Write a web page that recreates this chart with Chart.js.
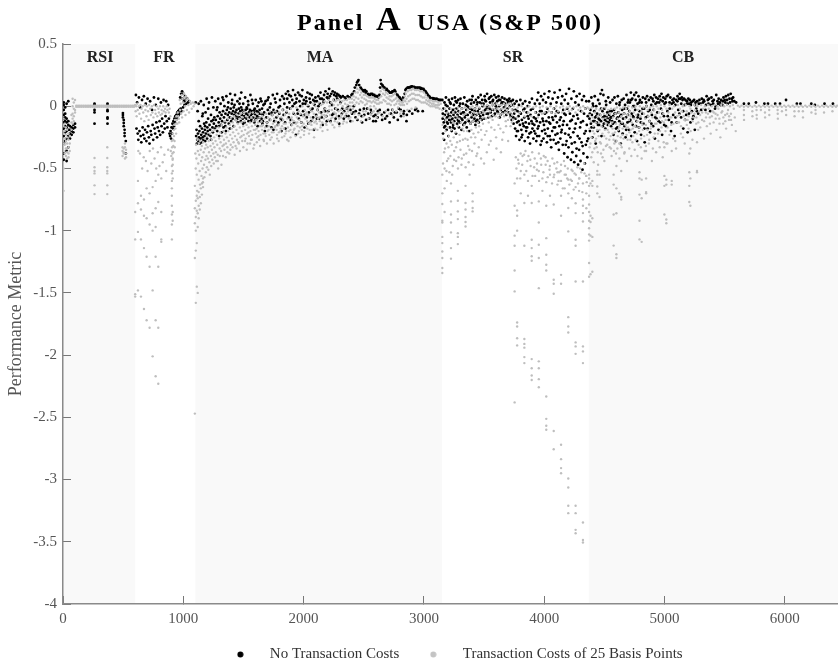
<!DOCTYPE html>
<html>
<head>
<meta charset="utf-8">
<title>Panel A USA (S&P 500)</title>
<script src="https://cdn.jsdelivr.net/npm/chart.js@4"></script>
<style>
body { margin: 0; background: #fff; }
canvas { display: block; filter: blur(0.3px); }
</style>
</head>
<body>
<canvas id="chart" width="838" height="666"></canvas>
<script>
const bandLabels = ['RSI', 'FR', 'MA', 'SR', 'CB']
const bandStarts = [0, 600, 1100, 3150, 4370]
const bandEnds = [600, 1100, 3150, 4370, 6442]
const bandCentres = [308, 839, 2136, 3741, 5154]
const xTicks = [0, 1000, 2000, 3000, 4000, 5000, 6000]
const yTicks = [0.5, 0, -0.5, -1, -1.5, -2, -2.5, -3, -3.5, -4]

// rows: one x then the values read at that x (the sparse hanging columns)
const rsiBlack = [
  [6,.03,.01,-.03,-.07,-.1,-.13,-.18,-.24,-.3,-.38,-.43],
  [18,-.01,-.06,-.09,-.12,-.16,-.21,-.28],
  [30,.02,-.1,-.13,-.17,-.2,-.26,-.36,-.44],
  [44,.04,-.12,-.15,-.19,-.24,-.33],
  [58,-.16,-.19,-.22,-.26],
  [72,-.17,-.2,-.23],
  [86,-.15,-.18,-.21],
  [100,-.14,-.17],
  [262,.02,.01,-.03,-.05,-.14],
  [370,.02,.01,-.03,-.04,-.09,-.1,-.14],
  [498,-.055,-.07,-.09],
  [505,-.11,-.135,-.16],
  [512,-.19,-.216,-.24],
  [522,-.28,-.38]
]
const rsiGrey = [
  [5,-.1,-.16,-.22,-.3,-.36,-.5,-.68],
  [14,-.14,-.2,-.26,-.31,-.38],
  [24,-.17,-.23,-.28,-.34,-.4],
  [34,-.19,-.25,-.3,-.37,-.42],
  [46,-.22,-.27,-.33,-.38,-.41],
  [56,-.24,-.3,-.36],
  [70,-.13,-.19,-.07],
  [80,.06,.0,-.06,-.1,-.14],
  [90,.03,-.02,-.08,-.12],
  [100,.05,-.03,-.05],
  [262,-.416,-.49,-.52,-.54,-.636,-.706],
  [368,-.33,-.416,-.49,-.52,-.54,-.636,-.706],
  [495,-.33,-.36,-.4],
  [505,-.34,-.37,-.38],
  [515,-.3,-.33,-.42],
  [524,-.35,-.38,-.41],
  [110,.005,-.005],[125,.005,-.005],[140,.005,-.005],[155,.005,-.005],[170,.005,-.005],[185,.005,-.005],
  [200,.005,-.005],[215,.005,-.005],[230,.005,-.005],[245,.005,-.005],[260,.005,-.005],[275,.005,-.005],
  [290,.005,-.005],[305,.005,-.005],[320,.005,-.005],[335,.005,-.005],[350,.005,-.005],[365,.005,-.005],
  [380,.005,-.005],[395,.005,-.005],[410,.005,-.005],[425,.005,-.005],[440,.005,-.005],[455,.005,-.005],
  [470,.005,-.005],[485,.005,-.005],[500,.005,-.005],[515,.005,-.005],[530,.005,-.005],[545,.005,-.005],
  [560,.005,-.005],[575,.005,-.005],[590,.005,-.005]
]
const frGreyLow = [
  [600,-.85,-1.07,-1.51,-1.53],
  [623,-.6,-.78,-1.01,-1.48],
  [648,-.72,-.83,-1.07,-1.53],
  [673,-.75,-.88,-1.14,-1.63],
  [695,-.66,-.9,-1.21,-1.72],
  [720,-.7,-.95,-1.29,-1.78],
  [745,-.65,-.86,-1.0,-1.48,-2.01],
  [770,-.6,-.82,-.97,-1.21,-1.72,-2.17],
  [792,-.55,-.77,-1.29,-1.78,-2.23],
  [817,-.58,-.85,-1.07,-1.09],
  [905,-.48,-.54,-.6,-.66,-.72,-.8,-.87,-.95,-1.07],
  [912,-.42,-.47,-.52,-.58,-.85,-.92]
]
const maGreyLow = [
  [1096,-.64,-.82,-.94,-1.22,-2.47],
  [1104,-.76,-.89,-1.0,-1.16,-1.58],
  [1112,-.72,-.84,-1.1,-1.45],
  [1120,-.74,-.86,-.97,-1.5],
  [1128,-.69,-.8,-.9],
  [1137,-.73,-.83],
  [1146,-.66,-.78],
  [1155,-.62,-.71],
  [1164,-.58,-.65]
]
const srGreyLow = [
  [3153,-.55,-.7,-.786,-.92,-.934,-1.05,-1.1,-1.167,-1.22,-1.3,-1.34],
  [3172,-.66,-.85],
  [3190,-.6],
  [3225,-.62,-.765,-.87,-.934,-1.014,-1.14,-1.225],
  [3282,-.68,-.76,-.845,-.907,-1.02,-1.05,-1.108],
  [3346,-.64,-.778,-.83,-.89,-.93,-.966],
  [3405,-.7,-.765,-.818,-.845],
  [3754,-.62,-.8,-1.04,-1.121,-1.32,-1.488,-2.38],
  [3775,-.58,-.837,-.88,-1.0,-1.738,-1.77,-1.864,-1.922],
  [3805,-.52,-.7],
  [3835,-.55,-.778,-1.121,-1.87,-1.91,-1.94,-2.016,-2.064],
  [3865,-.6,-.72],
  [3896,-.64,-.778,-1.073,-1.14,-1.205,-1.242,-2.032,-2.105,-2.164,-2.2],
  [3925,-.56],
  [3955,-.52,-.765,-.934,-1.113,-1.22,-1.462,-2.05,-2.105,-2.193,-2.258],
  [3985,-.58,-.68],
  [4017,-.61,-.8,-1.06,-1.194,-1.274,-1.32,-2.333,-2.512,-2.568,-2.6],
  [4048,-.55,-.72],
  [4079,-.57,-.79,-1.395,-1.427,-1.507,-2.61,-2.756],
  [4110,-.53,-.63],
  [4140,-.6,-.72,-.88,-1.355,-1.427,-2.72,-2.836,-2.908,-2.949],
  [4170,-.55,-.66],
  [4200,-.59,-.7,-.818,-1.006,-1.695,-1.77,-1.818,-2.992,-3.064,-3.211,-3.27],
  [4230,-.6,-.74],
  [4261,-.65,-.78,-.859,-1.073,-1.121,-1.408,-1.898,-1.93,-1.99,-3.211,-3.27,-3.404,-3.431],
  [4290,-.58,-.68],
  [4322,-.62,-.75,-.8,-.859,-.926,-1.408,-1.93,-1.97,-2.064,-3.345,-3.485,-3.506],
  [4350,-.56,-.7,-.82]
]
const cbGreyLow = [
  [4373,-.55,-.58,-.64,-.72,-.79,-.85,-.92,-.98,-1.03,-1.08,-1.26,-1.37],
  [4385,-.62,-.88,-.93,-1.04,-1.35],
  [4400,-.6,-.64,-.9,-1.05,-1.33],
  [4441,-.52,-.55,-.645,-.7],
  [4460,-.55,-.73],
  [4577,-.55,-.63,-.87,-1.12],
  [4600,-.48,-.66,-.86,-1.19,-1.22],
  [4625,-.42,-.7],
  [4640,-.52,-.73,-.75],
  [4792,-.53,-.58,-.71,-.92,-1.07],
  [4810,-.42,-.59,-.74,-1.09],
  [4847,-.36,-.58,-.69,-.7],
  [4999,-.33,-.56,-.64,-.87],
  [5015,-.3,-.59,-.63,-.91,-.94],
  [5060,-.36,-.6,-.63],
  [5206,-.38,-.53,-.64,-.77],
  [5215,-.34,-.58,-.8],
  [5270,-.29,-.52,-.53]
]

// flat x,y pairs: the crowded bands
const frBlack = [
  606,.09, 611,-.18, 616,.03, 621,-.22, 626,-.27, 631,.07, 636,-.2, 641,-.01, 646,-.24, 651,-.29,
  657,.05, 662,-.17, 667,-.23, 672,.08, 677,-.26, 682,-.19, 688,.02, 693,-.28, 698,-.21, 703,.06,
  708,-.16, 714,-.25, 719,-.3, 724,.04, 729,-.2, 734,-.23, 740,-.03, 745,-.15, 750,-.27, 756,.07,
  761,-.18, 766,-.22, 771,.01, 776,-.13, 782,-.25, 787,-.17, 792,.06, 798,-.2, 803,-.12, 808,-.23,
  814,.03, 819,-.16, 824,-.1, 830,-.21, 836,.05, 841,-.14, 846,-.18, 852,-.08, 858,.04, 863,-.12,
  868,-.17, 874,.01, 880,-.1, 885,-.22, 890,-.24, 894,-.2, 898,-.26, 902,-.17, 906,-.22, 910,-.14,
  914,-.18, 918,-.12, 922,-.16, 926,-.1, 930,-.13, 934,-.08, 938,-.11, 942,-.07, 946,-.1, 950,-.05,
  954,-.08, 958,-.04, 962,-.07, 966,-.03, 970,-.06, 974,.07, 978,-.02, 982,.1, 986,-.04, 990,.12,
  994,.06, 998,-.01, 1002,.1, 1006,.04, 1010,.01, 1015,.08, 1020,.05, 1026,.02, 1032,.06, 1040,.03, 1050,.04
]
const frGrey = [
  600,.01, 604,-.04, 608,.0, 612,-.08, 617,.02, 621,-.03, 626,-.36, 630,.0, 635,-.06, 640,-.38,
  644,.01, 649,-.1, 653,-.02, 658,-.5, 662,.0, 667,-.05, 671,-.41, 676,-.12, 680,.01, 685,-.03,
  689,-.44, 694,-.08, 698,.0, 703,-.52, 707,-.04, 712,-.11, 716,.01, 721,-.36, 725,-.02, 730,-.07,
  734,-.46, 739,.0, 743,-.05, 748,-.34, 752,-.09, 757,.01, 761,-.42, 766,-.03, 770,-.06, 775,-.5,
  779,.0, 784,-.08, 788,-.37, 793,-.02, 797,-.05, 802,-.48, 806,.0, 811,-.07, 815,-.33, 820,-.03,
  824,-.06, 829,-.45, 833,.0, 838,-.04, 843,-.39, 848,-.02, 853,-.05, 858,-.52, 863,.0, 868,-.03,
  874,-.35, 880,-.05, 886,-.02, 892,-.08, 896,-.36, 900,-.4, 904,-.28, 907,-.33, 909,-.38, 911,-.43,
  913,-.22, 915,-.27, 917,-.32, 919,-.37, 921,-.19, 923,-.24, 925,-.15, 927,-.28, 929,-.33, 931,-.11,
  934,-.18, 937,-.14, 940,-.22, 943,-.08, 946,-.11, 950,-.14, 954,-.05, 958,-.08, 962,-.1, 966,-.13,
  970,.05, 974,-.03, 978,.02, 982,-.06, 986,.09, 990,-.09, 994,.06, 998,.03, 1002,-.04, 1006,.1,
  1010,.07, 1014,.0, 1018,-.07, 1022,.08, 1026,.05, 1030,-.03, 1036,.06, 1042,.01, 1048,-.05, 1055,.04,
  1062,.02, 1070,-.02, 1078,.03, 1086,.0, 1094,.02
]
const maBlack = [
  1103,.03, 1107,-.24, 1110,-.19, 1113,-.3, 1116,-.27, 1119,-.04, 1122,-.22, 1125,-.28, 1128,.02, 1131,-.25,
  1134,-.2, 1137,-.3, 1140,-.16, 1143,-.26, 1146,.04, 1149,-.23, 1152,-.29, 1155,-.18, 1158,-.08, 1161,-.25,
  1164,-.21, 1167,-.27, 1170,.01, 1173,-.14, 1176,-.24, 1179,-.19, 1182,-.28, 1185,-.05, 1188,-.22, 1191,-.13,
  1194,.06, 1197,-.26, 1200,-.17, 1203,-.2, 1206,-.1, 1210,-.23, 1214,.03, 1218,-.15, 1222,-.19, 1226,-.24,
  1230,-.07, 1234,-.12, 1238,.07, 1242,-.17, 1246,-.21, 1250,-.01, 1254,-.14, 1258,-.09, 1262,-.18, 1266,.04,
  1270,-.11, 1274,-.16, 1278,-.03, 1282,-.2, 1286,-.08, 1290,.06, 1294,-.13, 1298,-.24, 1302,-.05, 1306,-.1,
  1310,.02, 1314,-.15, 1318,-.07, 1322,-.12, 1326,.07, 1330,-.04, 1334,-.17, 1338,-.09, 1342,.0, 1346,-.13,
  1350,-.06, 1354,-.2, 1358,.08, 1362,-.03, 1366,-.11, 1370,-.07, 1374,.03, 1378,-.14, 1382,-.05, 1386,-.09,
  1390,.1, 1394,-.02, 1398,-.12, 1402,-.06, 1406,.05, 1410,-.1, 1414,-.04, 1418,-.16, 1422,-.07, 1426,.01,
  1430,.09, 1434,-.05, 1438,-.11, 1442,-.03, 1446,-.08, 1450,.04, 1454,-.13, 1458,-.06, 1462,-.02, 1466,-.09,
  1470,.06, 1474,-.04, 1478,-.12, 1482,.11, 1486,-.07, 1490,-.03, 1494,-.1, 1498,.02, 1502,-.05, 1506,-.08,
  1510,-.13, 1514,.07, 1518,-.03, 1522,-.06, 1526,-.1, 1530,-.02, 1534,-.07, 1538,.04, 1542,-.12, 1546,-.05,
  1550,-.09, 1554,-.03, 1558,.09, 1562,-.07, 1566,-.11, 1570,-.04, 1574,-.06, 1578,.02, 1582,-.09, 1586,-.05,
  1590,-.13, 1594,-.02, 1598,-.07, 1602,.05, 1606,-.1, 1610,-.04, 1614,-.08, 1618,-.16, 1622,-.05, 1626,.03,
  1630,-.09, 1634,-.03, 1638,-.12, 1642,.06, 1646,-.06, 1650,-.1, 1654,-.02, 1658,-.14, 1662,-.07, 1666,.01,
  1672,-.05, 1678,-.2, 1684,.04, 1690,-.09, 1696,-.13, 1702,-.03, 1708,.07, 1714,-.06, 1720,-.11, 1726,.02,
  1732,-.17, 1738,-.07, 1744,.09, 1750,-.03, 1756,-.12, 1762,-.05, 1768,.03, 1774,-.09, 1780,.1, 1786,-.15,
  1792,-.01, 1798,-.06, 1804,.05, 1810,-.1, 1816,-.2, 1822,.08, 1828,-.03, 1834,-.07, 1840,.02, 1846,-.13,
  1852,.1, 1858,-.05, 1864,.06, 1870,.12, 1876,-.09, 1882,.03, 1888,-.02, 1894,.08, 1900,-.15, 1906,.05,
  1912,.13, 1918,-.06, 1924,.02, 1930,.09, 1936,-.23, 1942,.06, 1948,-.03, 1954,.11, 1960,-.1, 1966,.04,
  1972,.0, 1978,-.07, 1984,.08, 1990,.13, 1996,-.04, 2002,.05, 2008,-.17, 2014,.02, 2020,.07, 2026,-.09,
  2032,.11, 2038,.0, 2044,-.05, 2050,.06, 2056,.03, 2062,-.12, 2068,.09, 2074,-.02, 2080,.05, 2086,-.19,
  2092,.01, 2098,.07, 2104,-.07, 2110,.04, 2116,-.03, 2122,.08, 2128,-.1, 2134,.02, 2140,.11, 2146,-.05,
  2152,.06, 2158,-.15, 2164,.03, 2170,.09, 2176,-.02, 2182,.12, 2188,-.08, 2194,.07, 2200,.1, 2206,-.04,
  2212,.14, 2218,.08, 2224,-.12, 2230,.1, 2236,.01, 2242,.12, 2248,-.06, 2254,.09, 2260,.11, 2266,-.1,
  2272,.08, 2278,.1, 2284,-.03, 2290,.09, 2296,-.14, 2302,.08, 2310,.07, 2318,-.06, 2326,.08, 2334,-.1,
  2342,.07, 2350,.06, 2358,-.02, 2366,.08, 2374,-.08, 2382,.07, 2390,-.12, 2398,.09, 2406,.1, 2414,-.05,
  2420,.12, 2426,.15, 2432,-.09, 2438,.17, 2444,.19, 2450,.2, 2456,.21, 2462,.17, 2468,-.03, 2474,.15,
  2480,.14, 2486,-.13, 2492,.13, 2498,.12, 2504,-.07, 2510,.13, 2516,.11, 2522,.12, 2528,-.02, 2534,.1,
  2540,.09, 2546,-.1, 2552,.09, 2558,.1, 2564,-.05, 2570,.1, 2576,.09, 2582,-.08, 2588,.09, 2594,.08,
  2600,-.12, 2606,.08, 2612,.08, 2618,-.04, 2624,.07, 2630,.09, 2636,.15, 2640,.21, 2645,.18, 2650,-.07,
  2655,.17, 2660,.16, 2666,.15, 2672,.15, 2678,-.1, 2684,.13, 2690,.14, 2696,.13, 2702,-.03, 2708,.12,
  2714,.11, 2720,.11, 2726,-.06, 2732,.11, 2738,.12, 2744,.12, 2750,-.09, 2756,.13, 2762,.12, 2768,.1,
  2774,-.05, 2780,.09, 2786,.08, 2792,-.02, 2798,.07, 2804,.06, 2810,-.08, 2816,.05, 2822,.05, 2828,.07,
  2834,-.04, 2840,.1, 2846,.13, 2852,.14, 2858,-.07, 2864,.15, 2870,.15, 2876,.15, 2882,.15, 2888,.155,
  2894,.155, 2900,.16, 2906,.155, 2912,.15, 2918,.155, 2924,.15, 2930,.15, 2936,-.02, 2942,.15, 2948,.145,
  2954,.15, 2960,.145, 2966,.15, 2972,.14, 2978,.145, 2984,.14, 2990,-.04, 2996,.14, 3002,.13, 3008,.12,
  3014,.12, 3020,.11, 3026,.1, 3032,.09, 3038,.08, 3044,.08, 3050,.07, 3058,.065, 3066,.06, 3074,.065,
  3082,.06, 3090,.06, 3098,.055, 3106,.06, 3114,.055, 3122,.05, 3130,.05, 3140,.05
]
const maBlackExtra = [
  1128,-.12, 1162,-.06, 1181,-.16, 1207,-.02, 1231,-.27, 1249,-.11, 1283,-.01, 1297,-.16, 1319,-.21, 1333,.05,
  1349,-.16, 1371,-.01, 1387,-.18, 1403,.02, 1419,-.01, 1437,-.08, 1451,-.1, 1467,.02, 1481,-.01, 1497,-.14,
  1513,-.09, 1527,-.01, 1541,.01, 1559,-.12, 1571,.05, 1589,-.03, 1601,-.11, 1617,.0, 1631,-.06, 1649,.04,
  1661,-.12, 1677,.02, 1693,-.16, 1701,.05, 1719,-.01, 1733,-.05, 1749,-.19, 1761,.06, 1779,-.04, 1791,-.13,
  1803,.0, 1821,-.11, 1837,.06, 1849,-.18, 1863,-.01, 1879,.09, 1893,-.11, 1909,.0, 1921,-.13, 1937,.03,
  1951,-.06, 1967,.09, 1981,-.13, 1993,.02, 2009,-.07, 2023,.04, 2039,-.14, 2051,.1, 2067,-.03, 2079,-.09,
  2093,.04, 2111,-.1, 2123,.0, 2137,.06, 2151,-.09, 2167,.05, 2179,-.04, 2193,-.12, 2207,.06, 2221,.03,
  2237,-.07, 2251,.05, 2263,-.02, 2279,.06, 2293,-.08, 2307,.03, 2321,-.02, 2337,-.04, 2353,-.08, 2371,.0,
  2389,-.03, 2403,-.06, 2417,.0, 2433,-.04, 2447,-.11, 2461,-.06, 2483,-.08, 2501,-.02, 2519,-.11, 2537,-.06,
  2559,-.03, 2579,-.12, 2597,-.07, 2615,-.09, 2633,-.03, 2653,-.11, 2671,-.05, 2693,-.08, 2715,-.13, 2737,-.03,
  2759,-.05, 2783,-.11, 2807,-.03, 2831,-.06, 2855,-.12, 2879,-.04, 2903,-.06, 2927,-.03, 2951,-.04
]
const srBlack = [
  3153,.05, 3156,-.1, 3159,-.22, 3162,-.02, 3165,-.13, 3168,-.27, 3171,.03, 3174,-.07, 3177,-.16, 3180,-.11,
  3183,.07, 3186,-.04, 3189,-.19, 3192,-.09, 3195,.0, 3198,-.14, 3201,-.06, 3204,-.24, 3207,.05, 3210,-.11,
  3213,-.02, 3216,-.17, 3219,-.08, 3222,.02, 3225,-.13, 3228,-.05, 3231,-.2, 3234,.06, 3237,-.1, 3240,-.03,
  3243,-.15, 3246,-.07, 3249,.01, 3252,-.12, 3255,-.18, 3258,.07, 3261,-.05, 3264,-.09, 3267,-.22, 3270,-.02,
  3273,.03, 3276,-.14, 3279,-.07, 3282,-.11, 3285,.05, 3288,-.04, 3291,-.17, 3294,.0, 3297,-.09, 3300,-.13,
  3304,.06, 3308,-.06, 3312,-.19, 3316,-.02, 3320,-.11, 3324,.02, 3328,-.15, 3332,-.05, 3336,.07, 3340,-.09,
  3344,-.13, 3348,.01, 3352,-.03, 3356,-.17, 3360,.04, 3364,-.07, 3368,-.11, 3372,-.01, 3376,-.2, 3380,.05,
  3384,-.05, 3388,-.14, 3392,.02, 3396,-.09, 3400,-.03, 3404,.08, 3408,-.12, 3412,-.06, 3416,.03, 3420,-.1,
  3424,-.02, 3428,-.15, 3432,.05, 3436,-.07, 3440,.01, 3444,-.11, 3448,-.04, 3452,.07, 3456,-.13, 3460,-.02,
  3464,.03, 3468,-.08, 3472,.09, 3476,-.05, 3480,-.11, 3484,.05, 3488,.0, 3492,-.07, 3496,.02, 3500,-.1,
  3505,.08, 3510,-.03, 3515,.04, 3520,-.06, 3525,.1, 3530,.0, 3535,-.09, 3540,.06, 3545,-.02, 3550,.03,
  3555,-.05, 3560,.08, 3565,-.08, 3570,.01, 3575,.05, 3580,-.03, 3585,.09, 3590,-.06, 3595,.02, 3600,.07,
  3605,-.02, 3610,.04, 3615,-.05, 3620,.08, 3625,.0, 3630,-.09, 3635,.05, 3640,-.03, 3645,.02, 3650,.07,
  3655,-.05, 3660,.03, 3665,-.01, 3670,.06, 3675,-.04, 3680,.01, 3685,-.07, 3690,.05, 3695,-.02, 3700,.03,
  3705,-.05, 3710,.06, 3715,.0, 3720,-.08, 3725,.04, 3730,-.11, 3735,-.03, 3740,.05, 3745,-.14, 3750,-.06,
  3754,.02, 3758,-.18, 3762,-.1, 3766,-.24, 3770,.04, 3774,-.13, 3778,-.04, 3782,-.2, 3786,-.08, 3790,.01,
  3794,-.27, 3798,-.15, 3802,.05, 3806,-.06, 3810,-.19, 3814,-.11, 3818,-.23, 3822,.02, 3826,-.03, 3830,-.16,
  3834,-.09, 3838,-.28, 3842,.04, 3846,-.13, 3850,-.2, 3854,-.05, 3858,-.17, 3862,.0, 3866,-.25, 3870,-.1,
  3874,-.14, 3878,.03, 3882,-.3, 3886,-.07, 3890,-.21, 3894,-.12, 3898,.06, 3902,-.18, 3906,-.02, 3910,-.26,
  3914,-.09, 3918,-.15, 3922,.02, 3926,-.22, 3930,-.05, 3934,-.28, 3938,-.12, 3942,.05, 3946,-.18, 3950,.11,
  3954,-.07, 3958,-.24, 3962,.02, 3966,-.13, 3970,-.31, 3974,.08, 3978,-.04, 3982,-.2, 3986,-.1, 3990,.05,
  3994,-.26, 3998,-.15, 4002,.1, 4006,-.06, 4010,-.22, 4014,.03, 4018,-.12, 4022,-.29, 4026,-.02, 4030,-.18,
  4034,.07, 4038,-.09, 4042,.12, 4046,-.24, 4050,-.14, 4054,.02, 4058,-.33, 4062,-.05, 4066,-.2, 4070,.06,
  4074,-.11, 4078,-.27, 4082,-.02, 4086,.11, 4090,-.17, 4094,-.08, 4098,-.3, 4102,.03, 4106,-.13, 4110,-.22,
  4114,.07, 4118,-.05, 4122,-.35, 4126,-.16, 4130,.13, 4134,-.26, 4138,-.09, 4142,.02, 4146,-.19, 4150,.08,
  4154,-.31, 4158,-.03, 4162,-.12, 4166,-.38, 4170,.05, 4174,-.22, 4178,-.07, 4182,.1, 4186,-.28, 4190,-.15,
  4194,-.41, 4198,.02, 4202,-.33, 4206,.14, 4210,-.18, 4214,-.06, 4218,-.25, 4222,-.43, 4226,.06, 4230,-.11,
  4234,-.37, 4238,-.02, 4242,-.21, 4246,.12, 4250,-.45, 4254,-.29, 4258,.03, 4262,-.14, 4266,-.4, 4270,.08,
  4274,-.07, 4278,-.24, 4282,-.47, 4286,.01, 4290,-.35, 4294,.1, 4298,-.17, 4302,-.44, 4306,-.04, 4310,-.29,
  4314,.05, 4318,-.51, 4322,-.12, 4326,-.38, 4330,.08, 4334,-.22, 4338,-.46, 4342,-.02, 4346,-.31, 4350,.04,
  4354,-.15, 4358,-.41, 4362,-.08, 4366,-.26
]
const srBlackExtra = [
  3157,-.06, 3169,-.17, 3181,.01, 3193,-.13, 3205,-.08, 3217,.03, 3229,-.11, 3241,-.17, 3253,-.03, 3265,.04,
  3277,-.08, 3289,-.12, 3301,.02, 3313,-.1, 3325,-.05, 3337,-.14, 3349,-.07, 3361,.0, 3373,-.12, 3385,-.02,
  3397,.05, 3409,-.07, 3421,-.04, 3433,-.12, 3445,.03, 3457,-.06, 3469,-.1, 3481,.02, 3493,-.04, 3507,.05,
  3521,-.02, 3533,-.06, 3547,.07, 3559,-.03, 3571,.04, 3583,-.07, 3597,.0, 3611,-.04, 3623,.05, 3637,-.07,
  3649,.03, 3661,-.05, 3673,.02, 3689,-.03, 3703,.04, 3717,-.06, 3731,.01, 3743,-.09, 3761,-.03, 3773,-.2,
  3787,-.12, 3797,-.05, 3811,-.25, 3823,-.14, 3837,-.02, 3849,-.17, 3863,-.08, 3877,-.22, 3889,-.03, 3903,-.14,
  3917,-.2, 3929,-.1, 3941,-.24, 3953,-.16, 3965,-.04, 3979,-.28, 3991,-.12, 4003,-.19, 4017,-.05, 4029,-.24,
  4041,-.13, 4053,-.27, 4067,-.09, 4079,-.17, 4093,-.23, 4105,-.04, 4117,-.29, 4129,-.11, 4141,-.21, 4155,-.15,
  4167,-.06, 4179,-.31, 4191,-.02, 4203,-.23, 4217,-.12, 4229,-.3, 4243,-.08, 4255,-.18, 4269,-.34, 4281,-.1,
  4293,-.26, 4305,-.13, 4319,-.32, 4331,-.06, 4345,-.2, 4357,-.28
]
const cbBlack = [
  4372,.04, 4376,-.1, 4380,-.2, 4384,-.03, 4388,-.14, 4392,.07, 4396,-.07, 4400,-.25, 4404,.02, 4408,-.12,
  4412,-.17, 4416,-.04, 4420,.08, 4424,-.09, 4428,-.3, 4432,.0, 4436,-.13, 4440,-.06, 4444,-.2, 4448,.05,
  4452,-.1, 4456,-.15, 4460,.02, 4464,-.07, 4468,.1, 4472,-.12, 4476,-.24, 4480,.13, 4484,-.04, 4488,-.09,
  4492,.09, 4496,-.14, 4500,-.02, 4504,-.11, 4508,-.18, 4512,.04, 4516,-.08, 4520,-.12, 4524,-.05, 4528,-.1,
  4532,.07, 4536,-.13, 4540,-.07, 4544,-.11, 4548,.03, 4552,-.09, 4556,-.16, 4560,-.04, 4564,-.12, 4568,.05,
  4572,-.08, 4576,-.23, 4580,-.03, 4584,.07, 4588,-.13, 4592,-.06, 4596,-.28, 4600,.02, 4604,-.1, 4608,-.17,
  4612,.08, 4616,-.05, 4620,-.2, 4624,-.12, 4628,.03, 4632,-.08, 4636,-.3, 4640,-.14, 4644,.05, 4648,-.03,
  4652,-.22, 4656,-.1, 4660,.06, 4664,-.06, 4668,-.16, 4672,.01, 4676,-.25, 4680,-.09, 4684,.09, 4688,-.02,
  4692,-.13, 4696,-.07, 4700,.05, 4704,-.19, 4708,-.04, 4712,.03, 4716,-.11, 4720,.11, 4724,-.24, 4728,-.06,
  4732,.06, 4736,-.15, 4740,.0, 4744,-.09, 4748,.09, 4752,-.21, 4756,-.03, 4760,.05, 4764,.11, 4768,-.12,
  4772,-.28, 4776,.02, 4780,-.07, 4784,.08, 4788,-.17, 4792,-.04, 4796,.05, 4800,-.1, 4805,-.23, 4810,.03,
  4815,-.06, 4820,.07, 4825,-.14, 4830,-.02, 4835,-.29, 4840,.06, 4845,-.09, 4850,.0, 4855,.08, 4860,-.18,
  4865,-.04, 4870,.05, 4875,-.12, 4880,-.21, 4885,.07, 4890,.01, 4895,-.07, 4900,.06, 4905,-.16, 4910,-.03,
  4915,.09, 4920,-.26, 4925,.02, 4930,.07, 4935,-.1, 4940,-.05, 4945,.06, 4950,-.19, 4955,.03, 4960,.08,
  4965,-.13, 4970,-.02, 4975,.1, 4980,-.23, 4985,.04, 4990,.07, 4995,-.08, 5000,.02, 5006,.06, 5012,-.16,
  5018,.08, 5024,-.04, 5030,.09, 5036,-.11, 5042,.03, 5048,.07, 5054,-.2, 5060,.02, 5066,.05, 5072,-.07,
  5078,.06, 5084,-.24, 5090,.01, 5096,.05, 5102,-.13, 5108,.08, 5114,-.03, 5120,.06, 5126,.1, 5132,.06,
  5138,-.09, 5144,.07, 5150,.05, 5156,-.18, 5162,.06, 5168,.01, 5174,.05, 5180,-.07, 5186,.04, 5192,-.21,
  5198,.06, 5204,.02, 5210,.05, 5216,-.13, 5222,.03, 5228,-.04, 5234,.04, 5240,-.08, 5246,.05, 5252,-.19,
  5258,.03, 5264,-.02, 5272,.04, 5280,-.06, 5290,.05, 5300,.02, 5310,.06, 5320,.03, 5330,.04, 5340,-.03,
  5350,.08, 5360,.05, 5370,.06, 5380,-.04, 5390,.07, 5400,.04, 5410,.05, 5420,-.02, 5430,.09, 5440,.04,
  5450,.06, 5460,.03, 5470,.05, 5480,.01, 5490,.07, 5500,.05, 5510,.08, 5520,.05, 5530,.09, 5540,.06,
  5550,.1, 5560,.06, 5570,.07, 5580,.04, 5595,.03, 5660,.02, 5700,.02, 5760,.03, 5830,.02, 5860,.02,
  5920,.02, 5960,.02, 6010,.05, 6100,.02, 6130,.02, 6220,.02, 6250,.01, 6330,.02, 6400,.02
]
const cbBlackExtra = [
  4379,-.06, 4393,-.17, 4407,.0, 4419,-.12, 4433,-.08, 4447,-.15, 4461,-.11, 4473,-.02, 4487,-.16, 4501,-.08,
  4515,.01, 4529,-.15, 4543,-.04, 4557,-.09, 4571,-.14, 4585,-.06, 4597,-.18, 4611,-.09, 4625,.01, 4639,-.07,
  4653,-.14, 4667,-.02, 4681,-.19, 4695,.03, 4709,-.12, 4723,.05, 4737,-.08, 4751,.0, 4763,-.16, 4777,-.09,
  4791,.03, 4803,-.13, 4817,-.02, 4833,-.18, 4847,.03, 4861,-.08, 4877,-.03, 4891,-.14, 4907,.04, 4923,-.09,
  4937,.03, 4951,-.12, 4967,.05, 4983,-.06, 4997,-.15, 5011,.03, 5027,-.08, 5043,-.02, 5059,-.13, 5075,.03,
  5091,-.09, 5107,.04, 5123,-.06, 5139,.02, 5155,-.04, 5171,-.11, 5187,.02, 5203,-.06, 5219,.01, 5235,-.1,
  5253,.01, 5269,-.04, 5285,.02, 5305,-.03, 5325,.05, 5345,.01, 5365,.02, 5385,.01, 5405,.02, 5425,.0,
  5445,.02, 5465,.01, 5485,.04, 5505,.03, 5525,.02, 5545,.03, 5565,.04
]
const maGrey = [
  1100,-.38, 1103,-.5, 1106,-.31, 1109,-.42, 1112,-.55, 1115,-.68, 1118,-.27, 1121,-.36, 1124,-.46, 1127,-.59,
  1130,-.3, 1133,-.39, 1136,-.52, 1139,-.63, 1142,-.28, 1145,-.35, 1148,-.44, 1151,-.56, 1154,-.32, 1157,-.41,
  1160,-.5, 1163,-.61, 1166,-.29, 1169,-.37, 1172,-.47, 1175,-.57, 1178,-.26, 1181,-.34, 1184,-.43, 1187,-.53,
  1190,-.31, 1193,-.4, 1196,-.49, 1199,-.24, 1202,-.33, 1205,-.42, 1208,-.51, 1211,-.28, 1214,-.37, 1217,-.45,
  1220,-.55, 1223,-.22, 1226,-.32, 1229,-.4, 1232,-.48, 1235,-.27, 1238,-.35, 1241,-.43, 1244,-.2, 1247,-.3,
  1250,-.38, 1253,-.46, 1256,-.25, 1259,-.33, 1262,-.41, 1265,-.19, 1268,-.28, 1271,-.37, 1274,-.44, 1278,-.23,
  1282,-.31, 1286,-.39, 1290,-.5, 1294,-.17, 1298,-.26, 1302,-.34, 1306,-.21, 1310,-.29, 1314,-.36, 1318,-.15,
  1322,-.24, 1326,-.32, 1330,-.4, 1334,-.2, 1338,-.27, 1342,-.35, 1346,-.12, 1350,-.22, 1354,-.3, 1358,-.17,
  1362,-.25, 1366,-.33, 1370,-.1, 1374,-.2, 1378,-.28, 1382,-.38, 1386,-.15, 1390,-.23, 1394,-.31, 1398,-.09,
  1402,-.18, 1406,-.26, 1410,-.13, 1414,-.21, 1418,-.29, 1422,-.08, 1426,-.16, 1430,-.24, 1434,-.32, 1438,-.11,
  1442,-.19, 1446,-.27, 1450,-.07, 1454,-.14, 1458,-.22, 1462,-.3, 1466,-.1, 1470,-.17, 1474,-.25, 1478,-.06,
  1482,-.13, 1486,-.2, 1490,-.28, 1494,-.09, 1498,-.16, 1502,-.23, 1506,-.05, 1510,-.12, 1514,-.19, 1518,-.26,
  1522,-.08, 1526,-.15, 1530,-.22, 1534,-.3, 1538,-.1, 1542,-.17, 1546,-.24, 1550,-.06, 1554,-.13, 1558,-.2,
  1562,-.27, 1566,-.09, 1570,-.16, 1574,-.23, 1578,-.05, 1582,-.12, 1586,-.19, 1590,-.31, 1594,-.08, 1598,-.15,
  1602,-.22, 1606,-.11, 1610,-.18, 1614,-.25, 1618,-.06, 1622,-.13, 1626,-.2, 1630,-.27, 1634,-.09, 1638,-.16,
  1642,-.23, 1646,-.05, 1650,-.12, 1654,-.19, 1658,-.08, 1662,-.15, 1666,-.22, 1670,-.28, 1675,-.1, 1680,-.17,
  1685,-.24, 1690,-.06, 1695,-.13, 1700,-.2, 1705,-.09, 1710,-.16, 1715,-.23, 1720,-.04, 1725,-.11, 1730,-.18,
  1735,-.25, 1740,-.07, 1745,-.14, 1750,-.21, 1755,-.1, 1760,-.17, 1765,-.04, 1770,-.12, 1775,-.19, 1780,-.26,
  1785,-.08, 1790,-.15, 1795,-.21, 1800,-.05, 1805,-.12, 1810,-.18, 1815,-.09, 1820,-.16, 1825,-.03, 1830,-.11,
  1835,-.18, 1840,-.24, 1845,-.07, 1850,-.14, 1855,-.2, 1860,-.04, 1865,-.1, 1870,-.17, 1875,-.28, 1880,-.06,
  1885,-.13, 1890,-.19, 1895,-.02, 1900,-.09, 1905,-.15, 1910,-.21, 1915,-.05, 1920,-.12, 1925,-.18, 1930,-.07,
  1935,-.14, 1940,-.01, 1945,-.09, 1950,-.16, 1955,-.22, 1960,-.04, 1965,-.11, 1970,-.17, 1975,-.06, 1980,-.13,
  1985,-.19, 1990,.0, 1995,-.08, 2000,-.14, 2005,-.2, 2010,-.03, 2015,-.1, 2020,-.16, 2025,-.05, 2030,-.12,
  2035,.01, 2040,-.07, 2045,-.14, 2050,-.19, 2055,-.02, 2060,-.09, 2065,-.15, 2070,-.04, 2075,-.11, 2080,.02,
  2085,-.06, 2090,-.13, 2095,-.18, 2100,.0, 2105,-.08, 2110,-.14, 2115,-.03, 2120,-.1, 2125,.03, 2130,-.05,
  2135,-.12, 2140,-.17, 2145,.01, 2150,-.07, 2155,-.13, 2160,.02, 2165,-.04, 2170,-.1, 2175,.04, 2180,-.02,
  2185,-.08, 2190,-.15, 2195,.03, 2200,-.05, 2205,-.11, 2210,.05, 2215,.0, 2220,-.07, 2225,-.13, 2230,.03,
  2235,-.03, 2240,-.09, 2245,.05, 2250,.01, 2255,-.05, 2260,-.12, 2265,.04, 2270,-.02, 2275,-.08, 2280,.05,
  2285,.01, 2290,-.04, 2295,-.1, 2300,.05, 2305,.02, 2310,-.03, 2315,-.07, 2320,.04, 2325,.0, 2330,-.05,
  2335,-.12, 2340,.05, 2345,.02, 2350,-.02, 2355,-.06, 2360,.05, 2365,.01, 2370,-.04, 2375,-.1, 2380,.06,
  2385,.03, 2390,.0, 2395,-.05, 2400,.06, 2405,.03, 2410,-.02, 2415,.08, 2420,.05, 2425,.01, 2430,.11,
  2435,.07, 2440,.03, 2445,.14, 2450,.11, 2455,.06, 2460,.02, 2465,.13, 2470,.09, 2475,.04, 2480,.11,
  2485,.07, 2490,.03, 2495,-.04, 2500,.09, 2505,.06, 2510,.01, 2515,.09, 2520,.05, 2525,.02, 2530,.08,
  2535,.04, 2540,-.02, 2545,.07, 2550,.04, 2555,.0, 2560,.07, 2565,.03, 2570,-.05, 2575,.07, 2580,.04,
  2585,.0, 2590,.06, 2595,.03, 2600,-.02, 2605,.05, 2610,.02, 2615,-.06, 2620,.05, 2625,.02, 2630,.07,
  2635,.03, 2640,.12, 2645,.08, 2650,.03, 2655,.14, 2660,.1, 2665,.05, 2670,.13, 2675,.09, 2680,.04,
  2685,.11, 2690,.07, 2695,.02, 2700,.1, 2705,.06, 2710,.02, 2715,.08, 2720,.05, 2725,.01, 2730,.08,
  2735,.04, 2740,-.03, 2745,.09, 2750,.05, 2755,.01, 2760,.1, 2765,.06, 2770,.02, 2775,.07, 2780,.04,
  2785,-.01, 2790,.05, 2795,.02, 2800,.04, 2805,.01, 2810,-.04, 2815,.03, 2820,.01, 2825,.03, 2830,.05,
  2835,.01, 2840,.08, 2845,.04, 2850,.1, 2855,.06, 2860,.02, 2865,.12, 2870,.08, 2875,.04, 2880,.13,
  2885,.09, 2890,.05, 2895,.13, 2900,.1, 2905,.06, 2910,.14, 2915,.1, 2920,.06, 2925,.13, 2930,.09,
  2935,.05, 2940,.13, 2945,.09, 2950,.05, 2955,.13, 2960,.09, 2965,.04, 2970,.12, 2975,.08, 2980,.03,
  2985,.12, 2990,.07, 2995,.03, 3000,.11, 3005,.07, 3010,.03, 3015,.09, 3020,.05, 3025,.02, 3030,.07,
  3035,.04, 3040,.01, 3045,.05, 3050,.03, 3055,.0, 3060,.05, 3065,.02, 3070,.0, 3075,.04, 3080,.02,
  3085,.0, 3090,.04, 3095,.01, 3100,-.01, 3105,.04, 3110,.01, 3115,-.01, 3120,.03, 3125,.01, 3130,-.02, 3140,.02
]
const maGreyExtra = [
  1287,-.44, 1303,-.4, 1317,-.47, 1337,-.31, 1353,-.41, 1367,-.37, 1391,-.35, 1409,-.33, 1427,-.39, 1443,-.34,
  1457,-.29, 1471,-.36, 1485,-.24, 1499,-.33, 1513,-.28, 1527,-.35, 1541,-.21, 1555,-.3, 1569,-.27, 1583,-.34,
  1597,-.19, 1611,-.29, 1625,-.24, 1639,-.32, 1653,-.16, 1667,-.27, 1681,-.22, 1695,-.3, 1709,-.19, 1723,-.27,
  1737,-.21, 1751,-.3, 1765,-.16, 1779,-.23, 1793,-.28, 1807,-.2, 1821,-.25, 1835,-.14, 1849,-.22, 1863,-.27,
  1877,-.2, 1891,-.25, 1905,-.11, 1919,-.19, 1933,-.24, 1947,-.13, 1961,-.2, 1975,-.25, 1989,-.16, 2003,-.23,
  2017,-.07, 2031,-.18, 2045,-.22, 2059,-.13, 2073,-.19, 2087,-.25, 2101,-.12, 2115,-.19, 2129,-.09, 2143,-.15,
  2157,-.2, 2171,-.07, 2185,-.14, 2199,-.19, 2213,-.03, 2227,-.1, 2241,-.15, 2255,-.17, 2269,-.06, 2283,-.13,
  2297,-.16, 2311,-.09, 2327,-.14, 2343,-.08, 2359,-.13, 2373,-.02, 2389,-.09, 2407,-.12, 2423,-.06, 2441,-.1,
  2459,-.07, 2477,-.12, 2497,-.08, 2517,-.04, 2539,-.1, 2561,-.07, 2583,-.04, 2607,-.09, 2631,-.05, 2657,-.08,
  2683,-.04, 2711,-.06, 2739,-.07, 2769,-.04, 2803,-.06, 2833,-.08, 2863,-.03, 2897,-.02, 2931,-.01
]
const srGrey = [
  3152,-.03, 3156,-.15, 3160,-.26, 3164,-.08, 3168,-.37, 3172,-.5, 3176,-.02, 3180,-.2, 3184,-.11, 3188,-.3,
  3192,-.44, 3196,-.05, 3200,-.17, 3204,-.33, 3208,-.24, 3212,-.53, 3216,-.09, 3220,-.4, 3224,-.02, 3228,-.19,
  3232,-.31, 3236,-.12, 3240,-.48, 3244,-.05, 3248,-.25, 3252,-.36, 3256,-.14, 3260,-.03, 3264,-.21, 3268,-.44,
  3272,-.08, 3276,-.29, 3280,-.16, 3284,-.01, 3288,-.41, 3292,-.1, 3296,-.23, 3300,-.04, 3304,-.35, 3308,-.13,
  3312,-.47, 3316,-.02, 3320,-.18, 3324,-.27, 3328,-.07, 3332,-.39, 3336,-.15, 3340,-.01, 3344,-.26, 3348,-.06,
  3352,-.38, 3356,-.11, 3360,-.2, 3364,-.03, 3368,-.32, 3372,-.45, 3376,-.1, 3380,-.55, 3384,-.01, 3388,-.14,
  3392,-.25, 3396,-.07, 3400,-.36, 3404,.0, 3408,-.12, 3412,-.22, 3416,-.05, 3420,-.3, 3424,-.02, 3428,-.08,
  3432,-.17, 3436,-.4, 3440,.0, 3444,-.06, 3448,-.13, 3452,-.21, 3456,-.33, 3460,-.01, 3465,-.05, 3470,-.11,
  3475,-.19, 3480,-.27, 3485,.01, 3490,-.04, 3495,-.09, 3500,-.46, 3505,.0, 3510,-.05, 3515,-.1, 3520,-.2,
  3525,.01, 3530,-.03, 3535,-.08, 3540,-.31, 3545,.0, 3550,-.04, 3555,-.09, 3560,-.17, 3565,.01, 3570,-.02,
  3575,-.07, 3580,-.43, 3585,.01, 3590,-.03, 3595,-.08, 3600,-.25, 3605,.02, 3610,-.02, 3615,-.06, 3620,-.15,
  3625,.01, 3630,-.03, 3635,-.07, 3640,-.37, 3645,.01, 3650,-.02, 3655,-.06, 3660,-.21, 3665,.02, 3670,-.02,
  3675,-.05, 3680,-.12, 3685,.01, 3690,-.03, 3695,-.06, 3700,-.28, 3705,.02, 3710,-.01, 3715,-.05, 3720,-.16,
  3725,.01, 3730,-.03, 3735,-.07, 3740,-.11, 3748,.0, 3756,-.04, 3764,-.41, 3772,-.09, 3780,-.01, 3788,-.46,
  3796,-.05, 3804,-.38, 3812,.0, 3820,-.4, 3828,-.04, 3836,-.08, 3844,-.36, 3852,-.01, 3860,-.44, 3868,-.05,
  3876,.0, 3884,-.43, 3892,-.08, 3900,-.37, 3908,-.01, 3916,-.49, 3924,-.05, 3932,.0, 3940,-.46, 3948,-.09,
  3956,-.38, 3964,-.01, 3972,-.42, 3980,-.06, 3988,.0, 3996,-.4, 4004,-.05, 4012,-.47, 4020,-.01, 4028,-.44,
  4036,-.04, 4044,-.51, 4052,.0, 4060,-.05, 4068,-.42, 4076,-.02, 4084,-.46, 4092,-.06, 4100,.0, 4108,-.45,
  4116,-.04, 4124,-.53, 4132,-.01, 4140,-.47, 4148,-.05, 4156,.0, 4164,-.44, 4172,-.03, 4180,-.55, 4188,-.01,
  4196,-.5, 4204,-.04, 4212,.0, 4220,-.59, 4228,-.03, 4236,-.52, 4244,-.01, 4252,-.54, 4260,-.05, 4268,.0,
  4276,-.49, 4284,-.03, 4292,-.58, 4300,-.01, 4308,-.53, 4316,-.04, 4324,.0, 4332,-.46, 4340,-.02, 4348,-.56, 4360,-.01
]
const srGreyExtra = [
  3159,-.46, 3175,-.34, 3187,-.52, 3203,-.42, 3219,-.28, 3235,-.55, 3251,-.43, 3267,-.33, 3283,-.5, 3299,-.28,
  3315,-.42, 3331,-.2, 3347,-.49, 3363,-.27, 3379,-.35, 3395,-.19, 3411,-.47, 3427,-.25, 3443,-.38, 3459,-.16,
  3475,-.42, 3491,-.14, 3507,-.23, 3523,-.37, 3539,-.13, 3555,-.28, 3571,-.11, 3587,-.19, 3603,-.34, 3619,-.09,
  3635,-.18, 3651,-.27, 3667,-.08, 3683,-.16, 3699,-.11, 3715,-.09, 3731,-.13, 3769,-.5, 3783,-.43, 3801,-.58,
  3817,-.47, 3833,-.39, 3851,-.52, 3869,-.4, 3887,-.48, 3903,-.56, 3921,-.42, 3939,-.51, 3957,-.6, 3975,-.47,
  3993,-.53, 4011,-.41, 4029,-.57, 4047,-.48, 4065,-.62, 4083,-.55, 4101,-.5, 4119,-.6, 4137,-.52, 4155,-.66,
  4173,-.48, 4191,-.58, 4209,-.63, 4227,-.51, 4245,-.67, 4263,-.55, 4281,-.62, 4299,-.5, 4317,-.69, 4335,-.54, 4353,-.61
]
const cbGrey = [
  4372,-.02, 4376,-.18, 4380,-.07, 4384,-.3, 4388,-.12, 4392,-.25, 4396,-.01, 4400,-.37, 4404,-.09, 4408,-.16,
  4412,-.45, 4416,-.22, 4420,-.05, 4424,-.28, 4428,-.13, 4432,-.02, 4436,-.33, 4440,-.19, 4444,-.08, 4448,-.47,
  4452,-.24, 4456,-.13, 4460,-.03, 4464,-.29, 4468,-.07, 4472,-.38, 4476,-.16, 4480,-.02, 4484,-.22, 4488,-.1,
  4492,-.35, 4496,-.06, 4500,-.44, 4504,-.19, 4508,-.01, 4512,-.14, 4516,-.26, 4520,-.07, 4524,-.31, 4528,-.11,
  4532,-.03, 4536,-.21, 4540,-.15, 4544,-.33, 4548,-.06, 4552,-.24, 4556,-.02, 4560,-.4, 4564,-.13, 4568,-.18,
  4572,-.09, 4576,-.27, 4580,-.36, 4584,-.02, 4588,-.21, 4592,-.06, 4596,-.14, 4600,-.28, 4604,-.01, 4608,-.34,
  4612,-.1, 4616,-.19, 4620,-.05, 4624,-.3, 4628,-.15, 4632,-.02, 4636,-.25, 4640,-.08, 4644,-.33, 4648,-.13,
  4652,-.18, 4656,-.01, 4660,-.26, 4664,-.06, 4668,-.37, 4672,-.1, 4676,-.15, 4680,-.02, 4684,-.23, 4688,-.44,
  4692,-.07, 4696,-.17, 4700,.0, 4704,-.11, 4708,-.21, 4712,-.04, 4716,-.27, 4720,-.08, 4724,-.4, 4728,-.13,
  4732,-.01, 4736,-.18, 4740,-.24, 4744,-.05, 4748,-.1, 4752,-.35, 4756,-.16, 4760,.0, 4765,-.07, 4770,-.22,
  4775,-.12, 4780,-.03, 4785,-.31, 4790,-.17, 4795,.0, 4800,-.08, 4805,-.26, 4810,-.04, 4815,-.13, 4820,-.19,
  4825,-.01, 4830,-.06, 4835,-.36, 4840,-.1, 4845,-.15, 4850,.0, 4855,-.23, 4860,-.03, 4865,-.08, 4870,-.3,
  4875,-.12, 4880,-.01, 4885,-.18, 4890,-.05, 4895,-.44, 4900,-.09, 4905,.0, 4910,-.25, 4915,-.03, 4920,-.14,
  4925,-.07, 4930,-.37, 4935,.0, 4940,-.11, 4945,-.22, 4950,-.02, 4955,-.05, 4960,-.33, 4965,-.09, 4970,.01,
  4975,-.17, 4980,-.03, 4985,-.41, 4990,-.06, 4995,-.13, 5000,.0, 5008,-.2, 5016,-.02, 5024,-.3, 5032,-.05,
  5040,.01, 5048,-.09, 5056,-.15, 5064,-.02, 5072,-.26, 5080,.0, 5088,-.05, 5096,-.34, 5104,-.08, 5112,.01,
  5120,-.13, 5128,-.02, 5136,-.22, 5144,-.04, 5152,.0, 5160,-.08, 5168,-.3, 5176,.01, 5184,-.04, 5192,-.11,
  5200,-.18, 5208,.0, 5216,-.02, 5224,-.05, 5232,-.27, 5240,-.09, 5248,.01, 5256,-.03, 5264,-.14, 5272,.0,
  5280,-.19, 5288,-.04, 5296,-.07, 5304,.01, 5312,-.11, 5320,-.02, 5328,-.26, 5336,.0, 5344,-.05, 5352,-.16,
  5360,.01, 5368,-.02, 5376,-.09, 5384,-.22, 5392,.0, 5400,-.04, 5408,-.13, 5416,.01, 5424,-.06, 5432,-.19,
  5440,.0, 5448,-.02, 5456,-.1, 5464,-.25, 5472,.01, 5480,-.04, 5488,-.14, 5496,.0, 5504,-.07, 5512,-.18,
  5520,.01, 5528,-.03, 5536,-.11, 5544,.0, 5552,-.06, 5560,-.15, 5568,.01, 5576,-.02, 5584,-.09, 5592,-.2,
  5610,.005, 5625,-.005, 5640,.005, 5660,-.005, 5660,-.03, 5660,-.07, 5661,-.11, 5680,.005, 5695,-.005, 5710,.005,
  5730,-.005, 5730,-.04, 5731,-.08, 5750,.005, 5765,-.005, 5765,-.03, 5766,-.07, 5767,-.1, 5785,.005, 5800,-.005,
  5801,-.03, 5820,.005, 5835,-.005, 5835,-.05, 5836,-.09, 5855,.005, 5870,-.005, 5870,-.03, 5871,-.07, 5890,.005,
  5905,-.005, 5925,.005, 5940,-.005, 5940,-.03, 5941,-.06, 5942,-.1, 5960,.005, 5975,-.005, 5976,-.04, 5995,.005,
  6010,-.005, 6010,-.03, 6011,-.07, 6030,.005, 6045,-.005, 6065,.005, 6080,-.005, 6080,-.04, 6081,-.08, 6100,.005,
  6115,-.005, 6116,-.04, 6135,.005, 6150,-.005, 6150,-.04, 6151,-.09, 6170,.005, 6185,-.005, 6205,.005, 6220,-.005,
  6221,-.05, 6240,.005, 6255,-.005, 6255,-.03, 6256,-.06, 6275,.005, 6290,-.005, 6310,.005, 6325,-.005, 6326,-.05,
  6345,.005, 6360,-.005, 6380,.005, 6395,-.005, 6396,-.04, 6410,.005, 6425,-.005, 6435,.005
]
const cbGreyExtra = [
  4377,-.33, 4391,-.41, 4405,-.2, 4417,-.34, 4431,-.26, 4445,-.37, 4459,-.19, 4471,-.3, 4485,-.41, 4499,-.24,
  4513,-.32, 4527,-.19, 4541,-.27, 4555,-.34, 4569,-.22, 4583,-.3, 4597,-.38, 4611,-.24, 4623,-.17, 4637,-.31,
  4651,-.23, 4665,-.38, 4679,-.17, 4693,-.27, 4707,-.34, 4719,-.19, 4733,-.29, 4747,-.16, 4761,-.27, 4775,-.4,
  4789,-.2, 4803,-.33, 4817,-.15, 4831,-.24, 4845,-.32, 4859,-.19, 4873,-.27, 4889,-.16, 4903,-.34, 4919,-.22,
  4933,-.14, 4949,-.28, 4963,-.2, 4979,-.12, 4993,-.29, 5009,-.11, 5025,-.17, 5041,-.23, 5057,-.09, 5073,-.14,
  5089,-.28, 5105,-.13, 5121,-.07, 5137,-.16, 5153,-.25, 5169,-.11, 5185,-.15, 5201,-.08, 5217,-.2, 5233,-.12,
  5249,-.06, 5265,-.09, 5281,-.13, 5297,-.17, 5313,-.05, 5329,-.12, 5345,-.09, 5361,-.06, 5377,-.14, 5393,-.08,
  5409,-.05, 5425,-.1, 5441,-.07, 5457,-.14, 5473,-.05, 5489,-.09, 5505,-.12, 5521,-.06, 5537,-.08, 5553,-.11
]

const fromRows = rows => rows.flatMap(([x, ...ys]) => ys.map(y => ({x, y})))
const fromPairs = flat => {
  const out = []
  for (let i = 0; i < flat.length; i += 2) out.push({x: flat[i], y: flat[i + 1]})
  return out
}

const legendDot = (color, size) => {
  const c = document.createElement('canvas')
  c.width = c.height = size
  const g = c.getContext('2d')
  g.fillStyle = color
  g.beginPath()
  g.arc(size / 2, size / 2, size / 2 - 0.5, 0, Math.PI * 2)
  g.fill()
  return c
}
const legendDots = [legendDot('#000', 7), legendDot('#c4c4c4', 7)]

const bandsAndTitle = {
  id: 'bandsAndTitle',
  beforeDraw(chart) {
    const {ctx, chartArea, scales} = chart
    ctx.save()
    ctx.fillStyle = '#f9f9f9'
    ;[0, 2, 4].forEach(i => {
      const x0 = scales.x.getPixelForValue(bandStarts[i])
      const x1 = scales.x.getPixelForValue(bandEnds[i])
      ctx.fillRect(x0, chartArea.top, x1 - x0, chartArea.bottom - chartArea.top)
    })
    ctx.restore()
  },
  afterDraw(chart) {
    const {ctx, scales} = chart
    ctx.save()
    ctx.fillStyle = '#222'
    ctx.font = 'bold 16px "Liberation Serif"'
    ctx.textAlign = 'center'
    ctx.textBaseline = 'middle'
    bandLabels.forEach((l, i) => ctx.fillText(l, scales.x.getPixelForValue(bandCentres[i]), 58))
    ctx.textAlign = 'left'
    ctx.textBaseline = 'alphabetic'
    ctx.fillStyle = '#000'
    ctx.letterSpacing = '2px'
    ctx.font = 'bold 24px "Liberation Serif"'
    ctx.fillText('Panel', 297, 30)
    ctx.font = 'bold 34px "Liberation Serif"'
    ctx.fillText('A', 376, 30)
    ctx.font = 'bold 24px "Liberation Serif"'
    ctx.fillText('USA (S&P 500)', 417, 30)
    ctx.restore()
  }
}

new Chart(document.getElementById('chart'), {
  type: 'scatter',
  data: {
    datasets: [
      {
        label: 'No Transaction Costs',
        data: [
          ...fromRows(rsiBlack),
          ...[frBlack, maBlack, maBlackExtra, srBlack, srBlackExtra, cbBlack, cbBlackExtra].flatMap(fromPairs)
        ],
        backgroundColor: '#000',
        pointRadius: 1.4,
        pointBorderWidth: 0,
        order: 2
      },
      {
        label: 'Transaction Costs of 25 Basis Points',
        data: [
          ...[rsiGrey, frGreyLow, maGreyLow, srGreyLow, cbGreyLow].flatMap(fromRows),
          ...[frGrey, maGrey, maGreyExtra, srGrey, srGreyExtra, cbGrey, cbGreyExtra].flatMap(fromPairs)
        ],
        backgroundColor: '#bebebe',
        pointRadius: 1.2,
        pointBorderWidth: 0,
        order: 1
      }
    ]
  },
  plugins: [bandsAndTitle],
  options: {
    responsive: false,
    animation: false,
    layout: { autoPadding: false, padding: { top: 44, right: 0, left: 0, bottom: -6 } },
    scales: {
      x: {
        type: 'linear',
        min: 0,
        max: 6442,
        afterBuildTicks: s => { s.ticks = xTicks.map(value => ({value})) },
        afterFit: s => { s.height = 31 },
        grid: { drawOnChartArea: false, tickLength: -8, tickColor: '#777', tickWidth: 1 },
        border: { color: '#8a8a8a', width: 1.5 },
        ticks: {
          maxRotation: 0,
          autoSkip: false,
          padding: 14,
          color: '#555',
          font: { family: '"Liberation Serif"', size: 15 },
          callback: v => String(v)
        }
      },
      y: {
        min: -4,
        max: 0.5,
        afterBuildTicks: s => { s.ticks = yTicks.map(value => ({value})) },
        afterFit: s => { s.width = 63 },
        grid: { drawOnChartArea: false, tickLength: -8, tickColor: '#777', tickWidth: 1 },
        border: { color: '#8a8a8a', width: 1.5 },
        title: {
          display: true,
          text: 'Performance Metric',
          color: '#555',
          font: { family: '"Liberation Serif"', size: 18 },
          padding: { top: 5, bottom: 0 }
        },
        ticks: {
          autoSkip: false,
          padding: 14,
          color: '#555',
          font: { family: '"Liberation Serif"', size: 15 },
          callback: v => String(v)
        }
      }
    },
    plugins: {
      title: { display: false },
      tooltip: { enabled: false },
      legend: {
        display: true,
        position: 'bottom',
        fullSize: false,
        labels: {
          usePointStyle: true,
          pointStyleWidth: 44,
          padding: 12,
          color: '#333',
          font: { family: '"Liberation Serif"', size: 15 },
          sort: (a, b) => a.datasetIndex - b.datasetIndex,
          generateLabels(chart) {
            const items = Chart.defaults.plugins.legend.labels.generateLabels(chart)
            items.forEach(it => { it.pointStyle = legendDots[it.datasetIndex] })
            return items
          }
        }
      }
    }
  }
})
</script>
</body>
</html>
